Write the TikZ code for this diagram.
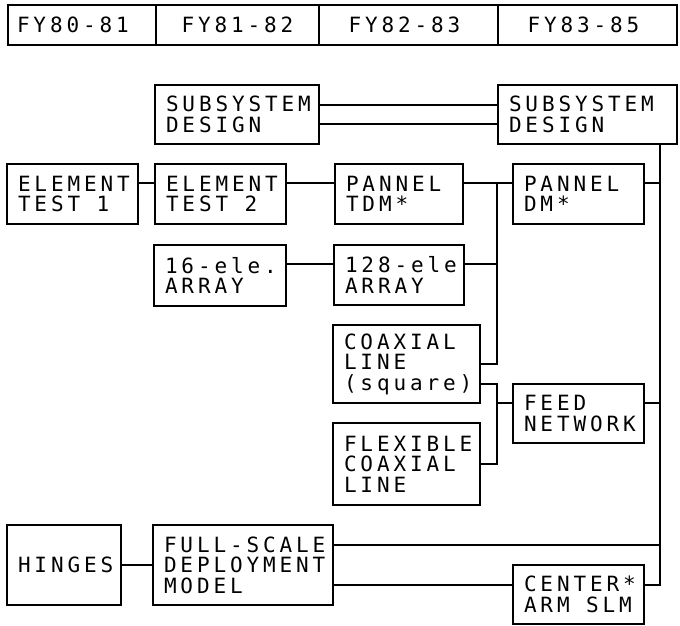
\documentclass[tikz,border=0pt]{standalone}
\usepackage{fontspec}
\usepackage{tikz}
\usetikzlibrary{positioning, calc}
\newfontfamily\blkfont[LetterSpace=18.4]{DejaVu Sans Mono}
\newcommand\cellgap{\hspace*{16.5pt}}
\hfuzz=60pt
\hbadness=10000

\begin{document}
\begin{tikzpicture}[
  x=1pt, y=-1pt,
  font={\blkfont\fontsize{21}{20.5}\selectfont},
  hdr/.style={draw, line width=1.6pt, anchor=north west, outer sep=0pt, inner sep=0pt, minimum height=40pt},
  blk/.style={draw, line width=1.6pt, anchor=north west, outer sep=0pt, inner xsep=11pt, inner ysep=0pt, align=left},
  wire/.style={line width=1.3pt}
]
\useasboundingbox (0,0) rectangle (680,626);

\node[hdr, minimum width=148pt, text width=130pt, inner xsep=9pt, align=left] (fyA) at (8,5) {FY80-81};
\node[hdr, minimum width=163pt] (fyB) at (156,5) {FY81-82};
\node[hdr, minimum width=179pt] (fyC) at (319,5) {FY82-83\hspace*{8pt}};
\node[hdr, minimum width=179pt] (fyD) at (498,5) {FY83-85\hspace*{8pt}};

\node[blk, text width=142pt, minimum height=59pt] (ssdA) at (155,85) {SUBSYSTEM\\DESIGN};
\node[blk, text width=157pt, minimum height=59pt] (ssdB) at (498,85) {SUBSYSTEM\\DESIGN};
\node[blk, text width=109pt, minimum height=60pt] (elemA) at (7,164) {ELEMENT\\TEST\cellgap 1};
\node[blk, text width=109pt, minimum height=60pt] (elemB) at (155,164) {ELEMENT\\TEST\cellgap 2};
\node[blk, text width=106pt, minimum height=60pt] (pnlTdm) at (335,164) {PANNEL\\TDM*};
\node[blk, text width=109pt, minimum height=60pt] (pnlDm) at (513,164) {PANNEL\\DM*};
\node[blk, text width=110pt, minimum height=61pt] (arrSm) at (154,245) {16-ele.\\ARRAY};
\node[blk, text width=108pt, minimum height=60pt] (arrLg) at (334,245) {128-ele\\ARRAY};
\node[blk, text width=125pt, minimum height=78pt] (coax) at (333,325) {COAXIAL\\LINE\\(square)};
\node[blk, text width=125pt, minimum height=82pt] (flex) at (333,423) {FLEXIBLE\\COAXIAL\\LINE};
\node[blk, text width=109pt, minimum height=59pt] (feed) at (513,384) {FEED\\NETWORK};
\node[blk, text width=92pt, minimum height=80pt] (hinge) at (7,525) {HINGES};
\node[blk, text width=158pt, minimum height=80pt] (fullDm) at (153,525) {FULL-SCALE\\DEPLOYMENT\\MODEL};
\node[blk, text width=109pt, minimum height=59pt] (ctrArm) at (513,565) {CENTER*\\ARM\cellgap SLM};

\coordinate (railA) at (497,183);
\coordinate (railArr) at (497,264);
\coordinate (railB) at (497,364);
\coordinate (railC) at (497,384);
\coordinate (railFeed) at (497,403);
\coordinate (railD) at (497,464);
\coordinate (spineTop) at (660,545);
\coordinate (spine) at (660,585);

\draw[wire] ([yshift=-20pt]ssdA.north east) -- ([yshift=-20pt]ssdB.north west);
\draw[wire] ([yshift=-39pt]ssdA.north east) -- ([yshift=-39pt]ssdB.north west);
\draw[wire] (elemA.east |- railA) -- (elemB.west |- railA);
\draw[wire] (elemB.east |- railA) -- (pnlTdm.west |- railA);
\draw[wire] (pnlTdm.east |- railA) -- (pnlDm.west |- railA);
\draw[wire] (arrSm.east |- railArr) -- (arrLg.west |- railArr);
\draw[wire] (arrLg.east |- railArr) -- (railArr);
\draw[wire] (railA) -- (railB) -- (coax.east |- railB);
\draw[wire] (coax.east |- railC) -- (railC) -- (railD) -- (flex.east |- railD);
\draw[wire] (railFeed) -- (feed.west |- railFeed);
\draw[wire] (ssdB.south -| spine) -- (spine) -- (ctrArm.east |- spine);
\draw[wire] (pnlDm.east |- railA) -- (spine |- railA);
\draw[wire] (feed.east |- railFeed) -- (spine |- railFeed);
\draw[wire] (fullDm.east |- spineTop) -- (spineTop);
\draw[wire] (fullDm.east |- spine) -- (ctrArm.west |- spine);
\draw[wire] (hinge.east) -- (fullDm.west);
\end{tikzpicture}
\end{document}
